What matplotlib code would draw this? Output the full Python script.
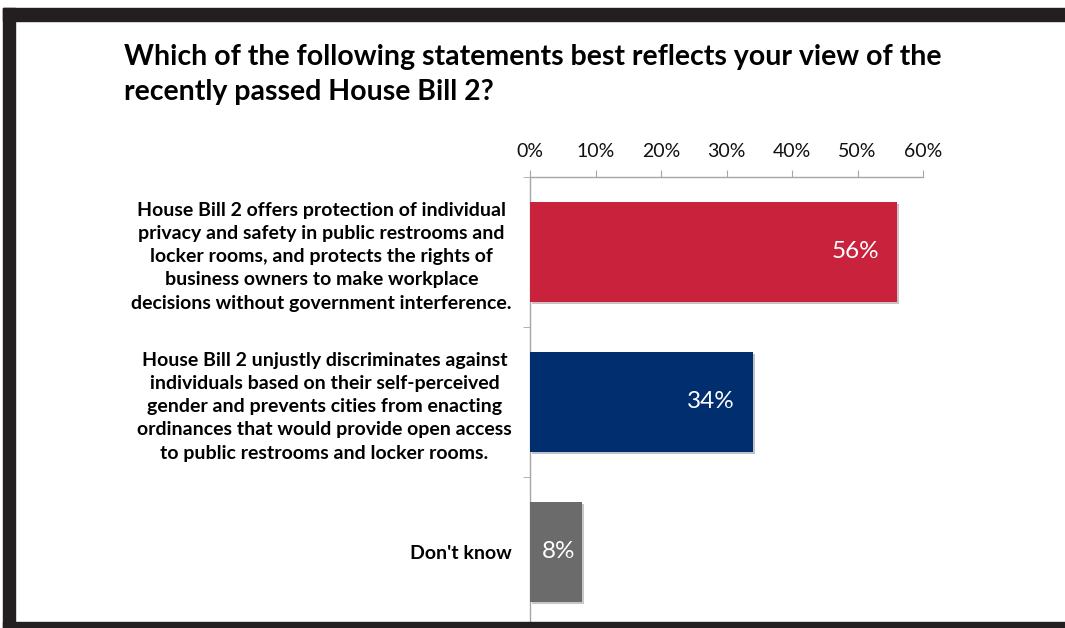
import matplotlib
matplotlib.use("Agg")
import matplotlib.pyplot as plt
import matplotlib.patheffects as pe
from matplotlib.patches import Rectangle
from matplotlib.ticker import FixedLocator, PercentFormatter

plt.rcParams["font.family"] = ["Lato", "DejaVu Sans"]

title = ("Which of the following statements best reflects your view of the\n"
         "recently passed House Bill 2?")

responses = [
    "House Bill 2 offers protection of individual\n"
    "privacy and safety in public restrooms and\n"
    "locker rooms, and protects the rights of\n"
    "business owners to make workplace\n"
    "decisions without government interference.",
    "House Bill 2 unjustly discriminates against\n"
    "individuals based on their self-perceived\n"
    "gender and prevents cities from enacting\n"
    "ordinances that would provide open access\n"
    "to public restrooms and locker rooms.",
    "Don't know",
]
shares = [56, 34, 8]
bar_colors = ["#C8223D", "#002E6E", "#6B6B6B"]
x_ticks = [0, 10, 20, 30, 40, 50, 60]

fig = plt.figure(figsize=(10.65, 6.28), dpi=100)
ax = fig.add_axes([530 / 1065, 1 - 627 / 628, 393 / 1065, 450 / 628])

ypos = list(range(len(shares)))
bars = ax.barh(ypos, shares, height=0.667, color=bar_colors, zorder=3)
for b in bars:
    b.set_path_effects([pe.SimplePatchShadow(offset=(1.5, -1.5), alpha=0.25),
                        pe.Normal()])

# value labels just inside the bar ends
for y, v in zip(ypos, shares):
    if v > 20:
        ax.text(v - 2.7, y, f"{v}%", ha="right", va="center",
                color="white", fontsize=17.5, zorder=4)
    else:
        ax.text(v / 2 + 0.4, y, f"{v}%", ha="center", va="center",
                color="white", fontsize=17.5, zorder=4)

ax.set_xlim(0, 60)
ax.set_ylim(2.5, -0.5)

ax.xaxis.tick_top()
ax.set_xticks(x_ticks)
ax.xaxis.set_major_formatter(PercentFormatter(decimals=0))
ax.tick_params(axis="x", which="major", direction="out", length=5,
               color="#A6A6A6", labelsize=14, pad=7, labelcolor="#111111")

ax.set_yticks(ypos)
ax.set_yticklabels(responses, fontsize=14, fontweight="bold",
                   multialignment="center", linespacing=1.45)
ax.yaxis.set_minor_locator(FixedLocator([-0.5, 0.5, 1.5, 2.5]))
ax.tick_params(axis="y", which="major", length=0, pad=13)
ax.tick_params(axis="y", which="minor", length=5, color="#A6A6A6")

for side in ("right", "bottom"):
    ax.spines[side].set_visible(False)
for side in ("top", "left"):
    ax.spines[side].set_color("#A6A6A6")
    ax.spines[side].set_linewidth(1.0)

fig.text(124 / 1065, 1 - 44 / 628, title, ha="left", va="top",
         fontsize=20.5, fontweight="bold", linespacing=1.45)

# dark frame around the slide
frame = "#231F20"
fig.add_artist(Rectangle((3 / 1065, 1 - 21 / 628), 1, 13 / 628,
                         transform=fig.transFigure, color=frame, zorder=10))
fig.add_artist(Rectangle((3 / 1065, 0), 12 / 1065, 1 - 8 / 628,
                         transform=fig.transFigure, color=frame, zorder=10))
fig.add_artist(Rectangle((3 / 1065, 0), 1, 6 / 628,
                         transform=fig.transFigure, color=frame, zorder=10))

fig.savefig("out.png", dpi=100)
